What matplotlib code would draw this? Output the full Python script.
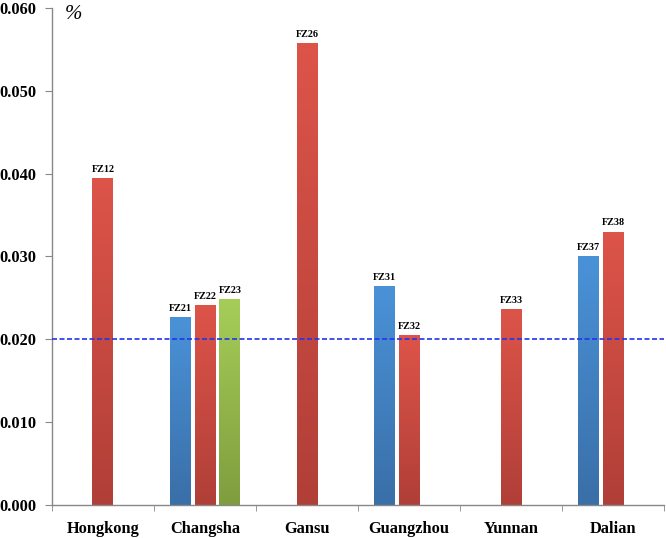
import matplotlib
matplotlib.use('Agg')
import matplotlib.pyplot as plt
from matplotlib.colors import LinearSegmentedColormap
import numpy as np

# categories and bar values (None = no bar for that series)
cities = ['Hongkong', 'Changsha', 'Gansu', 'Guangzhou', 'Yunnan', 'Dalian']
blue_vals = [None, 0.0227, None, 0.0264, None, 0.0300]
red_vals = [0.0395, 0.0241, 0.0558, 0.0205, 0.0236, 0.0330]
green_vals = [None, 0.0248, None, None, None, None]
blue_names = [None, 'FZ21', None, 'FZ31', None, 'FZ37']
red_names = ['FZ12', 'FZ22', 'FZ26', 'FZ32', 'FZ33', 'FZ38']
green_names = [None, 'FZ23', None, None, None, None]
threshold = 0.020

plt.rcParams['font.family'] = ['Liberation Serif', 'DejaVu Serif']

fig = plt.figure(figsize=(6.66, 5.38), dpi=100)
ax = fig.add_axes([0.078, 0.062, 0.919, 0.923])

width = 0.205
step = 0.244
series = [
    (blue_vals, blue_names, -step, ('#3a6fa8', '#4a92d8')),
    (red_vals, red_names, 0.0, ('#b03f38', '#dd5449')),
    (green_vals, green_names, step, ('#7f9d3e', '#a6cd58')),
]

for vals, names, off, (c_bot, c_top) in series:
    cmap = LinearSegmentedColormap.from_list('g', [c_bot, c_top])
    grad = np.linspace(0, 1, 256).reshape(-1, 1)
    for i, (v, n) in enumerate(zip(vals, names)):
        if v is None:
            continue
        x = i + off
        bar = ax.bar(x, v, width=width, color='none', edgecolor='none')[0]
        im = ax.imshow(grad, extent=(x - width / 2, x + width / 2, 0, v),
                       origin='lower', cmap=cmap, aspect='auto', zorder=2)
        im.set_clip_path(bar)
        ax.annotate(n, (x, v), xytext=(0, 3), textcoords='offset points',
                    ha='center', va='bottom', fontsize=7.3, fontweight='bold')

ax.axhline(threshold, color='#2233ee', linestyle=(0, (3, 1.5)), linewidth=1.2, zorder=3)

ax.set_xlim(-0.5, len(cities) - 0.5)
ax.set_ylim(0, 0.060)
ax.set_yticks(np.arange(0, 0.0601, 0.010))
ax.set_yticklabels(['%.3f' % t for t in np.arange(0, 0.0601, 0.010)],
                   fontsize=11.8, fontweight='bold')
ax.set_xticks(range(len(cities)))
ax.set_xticklabels(cities, fontsize=11.8, fontweight='bold')
ax.tick_params(axis='x', which='major', length=0, pad=12)
ax.set_xticks(np.arange(-0.5, len(cities), 1.0), minor=True)
ax.tick_params(axis='x', which='minor', length=4, color='#888888', direction='out')
ax.tick_params(axis='y', length=5, color='#888888', pad=6)

for s in ['top', 'right']:
    ax.spines[s].set_visible(False)
for s in ['left', 'bottom']:
    ax.spines[s].set_color('#888888')
    ax.spines[s].set_linewidth(1.0)

ax.text(0.021, 1.006, '%', transform=ax.transAxes, fontsize=15,
        fontstyle='italic', ha='left', va='top')

fig.savefig('out.png', dpi=100)
